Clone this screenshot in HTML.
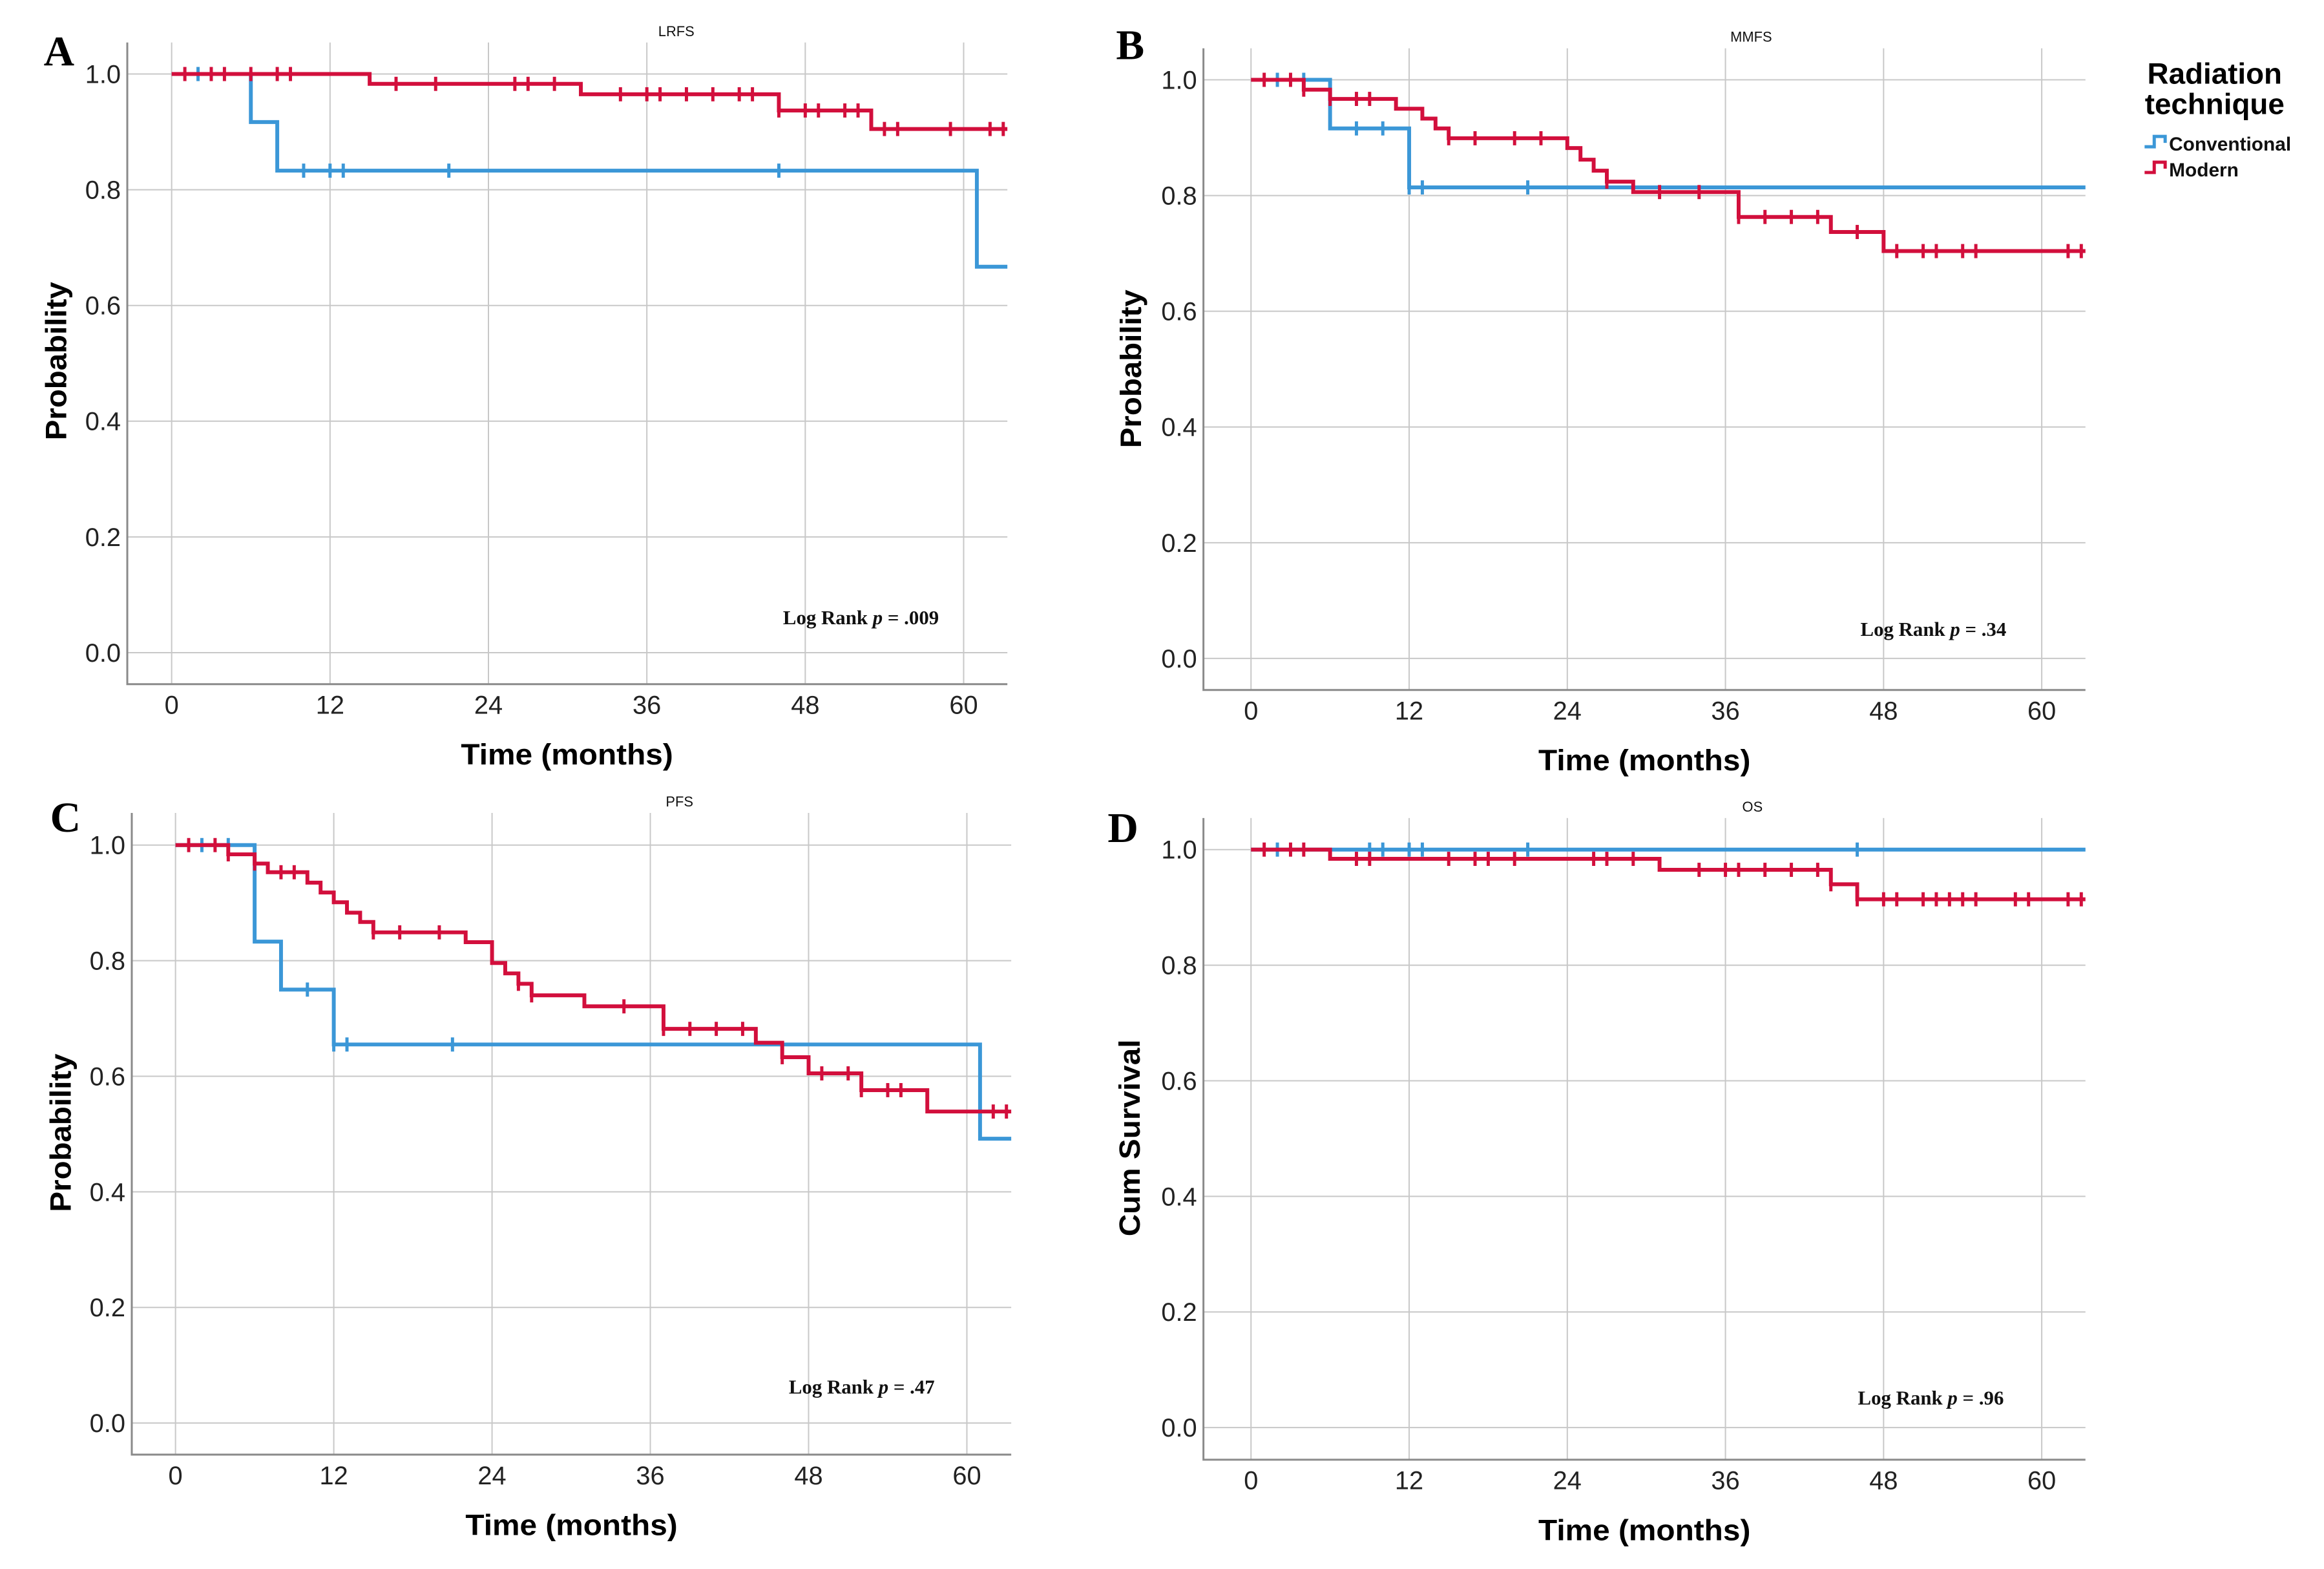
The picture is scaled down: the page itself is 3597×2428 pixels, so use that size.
<!DOCTYPE html>
<html><head><meta charset="utf-8">
<style>
html,body{margin:0;padding:0;background:#fff;}
svg{display:block;}
</style></head>
<body>
<svg id="fig" width="3597" height="2428" viewBox="0 0 3597 2428" xmlns="http://www.w3.org/2000/svg">
<rect width="3597" height="2428" fill="#fff"/>
<g id="root" transform="scale(0.995 0.996)"></g>
</svg>
<script>
// ---- Data ----
const xTicks = [0, 12, 24, 36, 48, 60];
const yTicks = [0.0, 0.2, 0.4, 0.6, 0.8, 1.0];
const yTickLabels = ["0.0", "0.2", "0.4", "0.6", "0.8", "1.0"];

// Panel A (LRFS)
const aConvTimes = [6, 8, 61];
const aConvVals = [0.917, 0.833, 0.667];
const aConvCens = [2, 10, 12, 13, 21, 46];
const aModTimes = [15, 31, 46, 53];
const aModVals = [0.983, 0.965, 0.937, 0.905];
const aModCens = [1, 3, 4, 6, 8, 9, 17, 20, 26, 27, 29, 34, 36, 37, 39, 41, 43, 44, 46, 48, 49, 51, 52, 54, 55, 59, 62, 63];

// Panel B (MMFS)
const bConvTimes = [6, 12];
const bConvVals = [0.916, 0.814];
const bConvCens = [2, 4, 8, 10, 12, 13, 21];
const bModTimes = [4, 6, 11, 13, 14, 15, 24, 25, 26, 27, 29, 37, 44, 48];
const bModVals = [0.983, 0.967, 0.950, 0.933, 0.916, 0.899, 0.882, 0.862, 0.843, 0.824, 0.806, 0.763, 0.737, 0.704];
const bModCens = [1, 3, 4, 6, 8, 9, 15, 17, 20, 22, 27, 31, 34, 37, 39, 41, 43, 46, 49, 51, 52, 54, 55, 62, 63];

// Panel C (PFS)
const cConvTimes = [6, 8, 12, 61];
const cConvVals = [0.833, 0.75, 0.655, 0.492];
const cConvCens = [2, 4, 10, 12, 13, 21];
const cModTimes = [4, 6, 7, 10, 11, 12, 13, 14, 15, 22, 24, 25, 26, 27, 31, 37, 44, 46, 48, 52, 57];
const cModVals = [0.984, 0.968, 0.953, 0.935, 0.918, 0.901, 0.883, 0.867, 0.849, 0.832, 0.796, 0.778, 0.760, 0.740, 0.721, 0.682, 0.658, 0.633, 0.605, 0.576, 0.539];
const cModCens = [1, 3, 4, 6, 8, 9, 15, 17, 20, 26, 27, 34, 37, 39, 41, 43, 46, 49, 51, 52, 54, 55, 62, 63];

// Panel D (OS)
const dConvTimes = [];
const dConvVals = [];
const dConvCens = [2, 9, 10, 12, 13, 21, 46];
const dModTimes = [6, 31, 44, 46];
const dModVals = [0.984, 0.965, 0.940, 0.914];
const dModCens = [1, 3, 4, 8, 9, 15, 17, 18, 20, 26, 27, 29, 34, 36, 37, 39, 41, 43, 44, 46, 48, 49, 51, 52, 53, 54, 55, 58, 59, 62, 63];

const BLUE = "#3b97d7", RED = "#d20f3c";
const NS = "http://www.w3.org/2000/svg";
const root = document.getElementById("root");

function el(tag, attrs, parent, text) {
  const e = document.createElementNS(NS, tag);
  for (const k in attrs) e.setAttribute(k, attrs[k]);
  if (text !== undefined) e.textContent = text;
  (parent || root).appendChild(e);
  return e;
}

function survAt(times, vals, t) {
  let v = 1;
  for (let i = 0; i < times.length; i++) if (times[i] <= t) v = vals[i];
  return v;
}

function drawPanel(p) {
  const g = el("g", {});
  
  
  const sx = t => p.x0 + (p.x60 - p.x0) * t / 60;
  const sy = v => p.y0 + (p.y1 - p.y0) * v;
  const tMax = (p.right - p.x0) / (p.x60 - p.x0) * 60;
  xTicks.forEach(t => {
    const l = el("line", {x1: sx(t), x2: sx(t), y1: p.top, y2: p.bottom, stroke: "#c8c8c8", "stroke-width": 2}, g);
    
    
    const tx = el("text", {x: sx(t), y: p.bottom + 46, "text-anchor": "middle", "font-family": "Liberation Sans, sans-serif", "font-size": 40, fill: "#222"}, g, String(t));
    
    
  });
  yTicks.forEach((v, i) => {
    const l = el("line", {x1: p.left, x2: p.right, y1: sy(v), y2: sy(v), stroke: "#c8c8c8", "stroke-width": 2}, g);
    
    
    const tx = el("text", {x: p.left - 10, y: sy(v) + 14, "text-anchor": "end", "font-family": "Liberation Sans, sans-serif", "font-size": 40, fill: "#222"}, g, yTickLabels[i]);
    
    
  });
  const ax = el("path", {d: `M${p.left},${p.top} L${p.left},${p.bottom} L${p.right},${p.bottom}`, fill: "none", stroke: "#8a8a8a", "stroke-width": 3}, g);
  
  
  p.series.forEach(s => {
    let d = `M${sx(0)},${sy(1)}`;
    let prev = 1;
    s.times.forEach((t, i) => {
      d += ` L${sx(t)},${sy(prev)} L${sx(t)},${sy(s.vals[i])}`;
      prev = s.vals[i];
    });
    d += ` L${sx(tMax)},${sy(prev)}`;
    const path = el("path", {d: d, fill: "none", stroke: s.color, "stroke-width": 6}, g);
    
    
    s.cens.forEach(t => {
      const v = survAt(s.times, s.vals, t);
      const c = el("line", {x1: sx(t), x2: sx(t), y1: sy(v) - 11, y2: sy(v) + 11, stroke: s.color, "stroke-width": 5}, g);
      
      
    });
  });
  const t1 = el("text", {x: p.titleX, y: p.top - 10, "text-anchor": "middle", "font-family": "Liberation Sans, sans-serif", "font-size": 22, fill: "#111"}, g, p.title);
  
  
  const lt = el("text", {x: p.letterX, y: p.letterY, "font-family": "Liberation Serif, serif", "font-weight": "bold", "font-size": 66, fill: "#000"}, g, p.letter);
  
  
  const xt = el("text", {x: p.xtX, y: p.xtY, "text-anchor": "middle", "font-family": "Liberation Sans, sans-serif", "font-weight": "bold", "font-size": 46, fill: "#000", textLength: 330, lengthAdjust: "spacingAndGlyphs"}, g, "Time (months)");
  
  
  const yt = el("text", {x: 0, y: 0, "text-anchor": "middle", "font-family": "Liberation Sans, sans-serif", "font-weight": "bold", "font-size": 46, fill: "#000", transform: `translate(${p.ytX},${p.ytY}) rotate(-90)`, textLength: p.ytLen, lengthAdjust: "spacingAndGlyphs"}, g, p.ytitle);
  
  
  const lr = el("text", {x: p.lrX, y: p.lrY, "font-family": "Liberation Serif, serif", "font-weight": "bold", "font-size": 31, fill: "#111"}, g);
  
  
  el("tspan", {}, lr, "Log Rank ");
  el("tspan", {"font-style": "italic"}, lr, "p");
  el("tspan", {}, lr, " = " + p.pval);
}

drawPanel({id: "a", letter: "A", title: "LRFS", left: 198, right: 1567, top: 66, bottom: 1063,
  x0: 267, x60: 1499, y1: 115, y0: 1014, titleX: 1052, letterX: 68, letterY: 102,
  xtX: 882, xtY: 1188, ytitle: "Probability", ytX: 103, ytY: 561, ytLen: 246,
  lrX: 1218, lrY: 970, pval: ".009",
  series: [{name: "conventional", color: BLUE, times: aConvTimes, vals: aConvVals, cens: aConvCens},
           {name: "modern", color: RED, times: aModTimes, vals: aModVals, cens: aModCens}]});
drawPanel({id: "b", letter: "B", title: "MMFS", left: 1872, right: 3244, top: 75, bottom: 1072,
  x0: 1946, x60: 3176, y1: 124, y0: 1023, titleX: 2724, letterX: 1736, letterY: 92,
  xtX: 2558, xtY: 1197, ytitle: "Probability", ytX: 1775, ytY: 573, ytLen: 246,
  lrX: 2894, lrY: 988, pval: ".34",
  series: [{name: "conventional", color: BLUE, times: bConvTimes, vals: bConvVals, cens: bConvCens},
           {name: "modern", color: RED, times: bModTimes, vals: bModVals, cens: bModCens}]});
drawPanel({id: "c", letter: "C", title: "PFS", left: 205, right: 1573, top: 1263, bottom: 2260,
  x0: 273, x60: 1504, y1: 1313, y0: 2211, titleX: 1057, letterX: 78, letterY: 1292,
  xtX: 889, xtY: 2385, ytitle: "Probability", ytX: 110, ytY: 1760, ytLen: 246,
  lrX: 1227, lrY: 2165, pval: ".47",
  series: [{name: "conventional", color: BLUE, times: cConvTimes, vals: cConvVals, cens: cConvCens},
           {name: "modern", color: RED, times: cModTimes, vals: cModVals, cens: cModCens}]});
drawPanel({id: "d", letter: "D", title: "OS", left: 1872, right: 3244, top: 1271, bottom: 2268,
  x0: 1946, x60: 3176, y1: 1320, y0: 2218, titleX: 2726, letterX: 1723, letterY: 1308,
  xtX: 2558, xtY: 2393, ytitle: "Cum Survival", ytX: 1773, ytY: 1768, ytLen: 306,
  lrX: 2890, lrY: 2182, pval: ".96",
  series: [{name: "conventional", color: BLUE, times: dConvTimes, vals: dConvVals, cens: dConvCens},
           {name: "modern", color: RED, times: dModTimes, vals: dModVals, cens: dModCens}]});

// Legend
const lg = el("g", {});


const lt1 = el("text", {x: 3445, y: 130, "text-anchor": "middle", "font-family": "Liberation Sans, sans-serif", "font-weight": "bold", "font-size": 46, fill: "#000"}, lg, "Radiation");


const lt2 = el("text", {x: 3445, y: 177, "text-anchor": "middle", "font-family": "Liberation Sans, sans-serif", "font-weight": "bold", "font-size": 46, fill: "#000"}, lg, "technique");


[["Conventional", BLUE, 234], ["Modern", RED, 274]].forEach(([lab, col, y]) => {
  const ic = el("path", {d: `M3336,${y - 6} L3351,${y - 6} L3351,${y - 22} L3368,${y - 22} L3368,${y - 12}`, fill: "none", stroke: col, "stroke-width": 5}, lg);
  
  
  const t = el("text", {x: 3374, y: y, "font-family": "Liberation Sans, sans-serif", "font-weight": "bold", "font-size": 30, fill: "#111"}, lg, lab);
  
  
});
</script>
</body></html>
